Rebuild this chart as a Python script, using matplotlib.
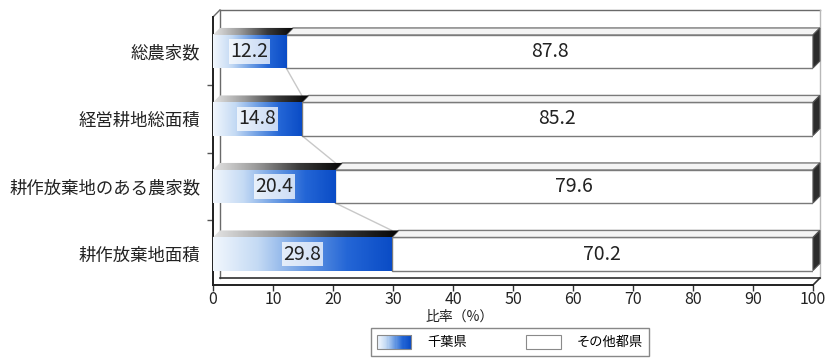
import numpy as np
import matplotlib
matplotlib.use("Agg")
import matplotlib.pyplot as plt
from matplotlib.colors import LinearSegmentedColormap
from matplotlib.patches import Polygon, Rectangle, Patch
from matplotlib.legend_handler import HandlerBase

plt.rcParams['font.family'] = ['Noto Sans CJK JP', 'DejaVu Sans']

# data
categories = ['総農家数', '経営耕地総面積', '耕作放棄地のある農家数', '耕作放棄地面積']
chiba = [12.2, 14.8, 20.4, 29.8]
others = [87.8, 85.2, 79.6, 70.2]
series_names = ['千葉県', 'その他都県']
xticks = [0, 10, 20, 30, 40, 50, 60, 70, 80, 90, 100]

# 3d look
BAR_H = 0.49
DX = 1.15      # depth, x units
DY = 0.104     # depth, y units
TOP = -0.615
FLOOR_FRONT = 3.46
FLOOR_BACK = FLOOR_FRONT - DY

blue_cmap = LinearSegmentedColormap.from_list(
    'blue', ['#f2f7fd', '#c4daf4', '#6f9fe4', '#2466d6', '#0a4cc6'])
shade_cmap = LinearSegmentedColormap.from_list(
    'shade', ['#e4e4e4', '#9a9a9a', '#3a3a3a', '#050505'])
grad = np.linspace(0, 1, 256).reshape(1, -1)

fig = plt.figure(figsize=(8.32, 3.6), dpi=100)
ax = fig.add_axes([213 / 832, (360 - 292) / 360, 600 / 832, 284 / 360])
ax.patch.set_alpha(0)

# back wall / floor frame
wall = dict(color='#6a6a6a', lw=1.0, zorder=1, clip_on=False)
ax.plot([DX, 100 + DX], [TOP, TOP], **wall)
ax.plot([0, DX], [TOP + DY, TOP], **wall)
ax.plot([DX, DX], [TOP, FLOOR_BACK], **wall)
ax.plot([100 + DX, 100 + DX], [TOP, FLOOR_BACK], color='#b8b8b8', lw=1.0,
        zorder=1, clip_on=False)
ax.plot([DX, 100 + DX], [FLOOR_BACK, FLOOR_BACK], color='#303030', lw=1.2,
        zorder=1, clip_on=False)
ax.plot([100, 100 + DX], [FLOOR_FRONT, FLOOR_BACK], color='#303030', lw=1.2,
        zorder=1, clip_on=False)

# series lines between the ends of the first series
for i in range(len(chiba) - 1):
    ax.plot([chiba[i], chiba[i + 1]],
            [i + BAR_H / 2, i + 1 - BAR_H / 2 - DY],
            color='#c8c8c8', lw=1.0, zorder=2)

for i, (v, w) in enumerate(zip(chiba, others)):
    yt = i - BAR_H / 2
    yb = i + BAR_H / 2
    total = v + w

    # other prefectures: front, top, side
    ax.add_patch(Rectangle((v, yt), w, BAR_H, facecolor='white',
                           edgecolor='#7a7a7a', lw=1.0, zorder=3))
    ax.add_patch(Polygon([(v, yt), (total, yt), (total + DX, yt - DY), (v + DX, yt - DY)],
                         closed=True, facecolor='#f4f4f4', edgecolor='#7a7a7a',
                         lw=1.0, zorder=3, clip_on=False))
    ax.add_patch(Polygon([(total, yt), (total + DX, yt - DY), (total + DX, yb - DY), (total, yb)],
                         closed=True, facecolor='#2c2c2c', edgecolor='#555555',
                         lw=0.8, zorder=3, clip_on=False))

    # Chiba: gradient front face
    ax.imshow(grad, extent=(0, v, yb, yt), cmap=blue_cmap, aspect='auto',
              interpolation='bilinear', zorder=4)
    # gradient top face
    top_face = Polygon([(0, yt), (v, yt), (v + DX, yt - DY), (DX, yt - DY)],
                       closed=True, facecolor='none', edgecolor='none',
                       transform=ax.transData)
    ax.add_patch(top_face)
    im = ax.imshow(grad, extent=(0, v + DX, yt, yt - DY), cmap=shade_cmap,
                   aspect='auto', interpolation='bilinear', zorder=4)
    im.set_clip_path(top_face)

    lab_box = dict(boxstyle='square,pad=0.08', facecolor='white',
                   edgecolor='none', alpha=0.75)
    ax.text(v / 2, i, f'{v:.1f}', ha='center', va='center', fontsize=14,
            color='#222222', bbox=lab_box, zorder=6)
    ax.text(v + w / 2, i, f'{w:.1f}', ha='center', va='center', fontsize=14,
            color='#222222', zorder=6)

ax.set_xlim(0, 100)
ax.set_ylim((292 - 51.5) / 67.5, (8 - 51.5) / 67.5)

# axes
for s in ['top', 'right']:
    ax.spines[s].set_visible(False)
ax.spines['bottom'].set_position(('data', FLOOR_FRONT))
ax.spines['bottom'].set_linewidth(1.4)
ax.spines['bottom'].set_color('#202020')
ax.spines['left'].set_bounds(TOP + DY, FLOOR_FRONT)
ax.spines['left'].set_linewidth(1.4)
ax.spines['left'].set_color('#202020')

ax.set_xticks(xticks)
ax.tick_params(axis='x', direction='out', length=4, width=1, colors='#333333',
               labelsize=11.5, pad=0.5, labelcolor='#222222')
ax.set_yticks(range(len(categories)))
ax.set_yticklabels(categories)
ax.tick_params(axis='y', length=0, pad=9, labelsize=12.5, labelcolor='#222222')
ax.set_yticks([0.5, 1.5, 2.5], minor=True)
ax.tick_params(axis='y', which='minor', direction='out', length=4, width=1,
               colors='#555555')

fig.text(460 / 832, 1 - 317 / 360, '比率（%）', ha='center', va='center',
         fontsize=10, color='#222222')


class GradientHandler(HandlerBase):
    def create_artists(self, legend, orig_handle, xdescent, ydescent,
                       width, height, fontsize, trans):
        n = 30
        arts = []
        x0, y0 = -xdescent, -ydescent
        for k in range(n):
            arts.append(Rectangle((x0 + width * k / n, y0), width / n + 0.3, height,
                                  facecolor=blue_cmap(k / (n - 1)), edgecolor='none',
                                  transform=trans))
        arts.append(Rectangle((x0, y0), width, height, facecolor='none',
                              edgecolor='#8a8a8a', lw=0.8, transform=trans))
        return arts


handles = [Patch(label=series_names[0]),
           Patch(facecolor='white', edgecolor='#8a8a8a', lw=0.8, label=series_names[1])]
leg = fig.legend(handles=handles, ncol=2, loc='center',
                 bbox_to_anchor=(510 / 832, 1 - 342 / 360),
                 handler_map={handles[0]: GradientHandler()},
                 fontsize=9.5, frameon=True, fancybox=False, edgecolor='#6a6a6a',
                 handlelength=2.6, handleheight=1.3, handletextpad=1.2,
                 columnspacing=4.5, borderpad=0.5)
leg.get_frame().set_linewidth(1.0)
leg.set_zorder(5)

fig.savefig('out.png', dpi=100)
